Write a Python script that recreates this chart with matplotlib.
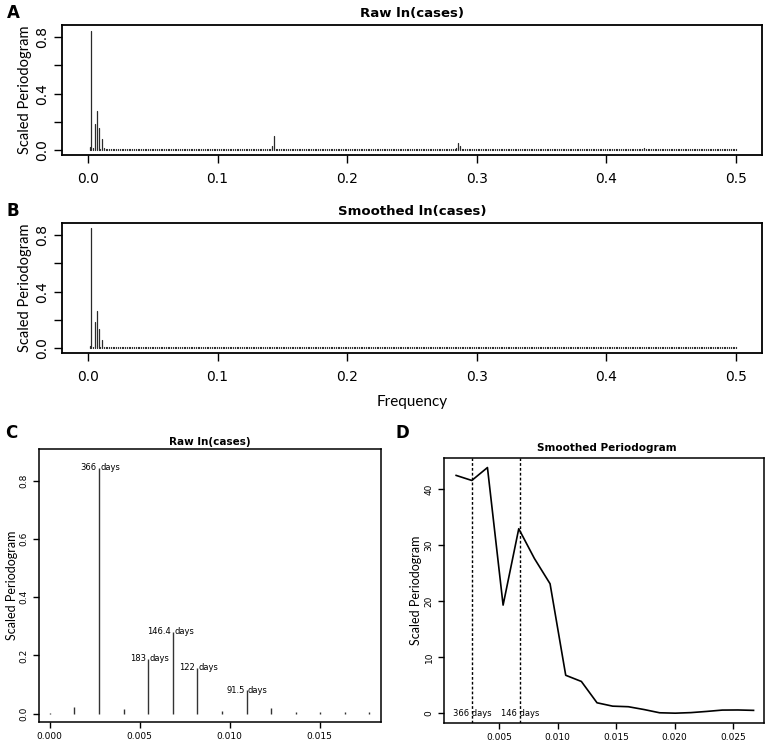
import numpy as np
import matplotlib
matplotlib.use("Agg")
import matplotlib.pyplot as plt

# frequency grid of the raw periodogram (cycles per day, series length 732)
n_obs = 732
freq = np.arange(0, n_obs // 2 + 1) / n_obs

# raw ln(cases): low-frequency ordinates k = 0..13
raw_low = [0.002, 0.023, 0.846, 0.016, 0.189, 0.281, 0.157, 0.009, 0.080, 0.018,
           0.008, 0.008, 0.008, 0.008]
# weekly harmonics in the raw series (index into freq, value)
raw_peak_idx = [14, 103, 104, 105, 106, 208, 209, 210, 313, 314, 315]
raw_peak_val = [0.010, 0.010, 0.035, 0.100, 0.012, 0.020, 0.050, 0.028, 0.010, 0.020, 0.010]

# smoothed ln(cases): low-frequency ordinates k = 0..10
smooth_low = [0.002, 0.019, 0.847, 0.012, 0.184, 0.264, 0.137, 0.008, 0.059, 0.008, 0.008]

floor_level = 0.008  # background level of the remaining ordinates

# panel C labels
peak_periods = ["366", "183", "146.4", "122", "91.5"]
peak_idx = [2, 4, 5, 6, 8]

# panel D: smoothed periodogram
smooth_freq = np.arange(1, 21) / 748
smooth_spec = [42.4, 41.5, 43.8, 19.3, 32.9, 27.6, 23.1, 6.8, 5.7, 1.9,
               1.3, 1.2, 0.7, 0.12, 0.05, 0.15, 0.36, 0.6, 0.62, 0.55]
mark_periods = [366, 146.4]
mark_labels = ["366 days", "146 days"]

raw = np.full(len(freq), floor_level)
raw[:len(raw_low)] = raw_low
raw[raw_peak_idx] = raw_peak_val
smooth = np.full(len(freq), floor_level)
smooth[:len(smooth_low)] = smooth_low

# panel C shows the raw ordinates as read, without the background fill
raw_c = np.array(raw_low)
raw_c[10:] = [0.006, 0.004, 0.004, 0.004]

W, H = 767, 743
fig = plt.figure(figsize=(W / 100, H / 100), dpi=100)


def px_axes(left, top, right, bottom):
    return fig.add_axes([left / W, 1 - bottom / H, (right - left) / W, (bottom - top) / H])


label_font = ["Lato", "DejaVu Sans"]


def style(ax, lw=1.3, tlen=6, tsize=10):
    for s in ax.spines.values():
        s.set_linewidth(lw)
    ax.tick_params(direction="out", length=tlen, width=1.0, labelsize=tsize)
    for lab in ax.get_yticklabels():
        lab.set_rotation(90)
        lab.set_va("center")


# ---- A and B ----
for letter, title, vals, top, bottom in [("A", "Raw ln(cases)", raw, 25, 155),
                                         ("B", "Smoothed ln(cases)", smooth, 223, 353)]:
    ax = px_axes(62, top, 762, bottom)
    lc = ax.vlines(freq, 0, vals, color="#2a2a2a", lw=0.9)
    lc.set_capstyle("round")
    ax.set_xlim(-0.02, 0.52)
    ax.set_ylim(-0.032, 0.885)
    ax.set_xticks([0.0, 0.1, 0.2, 0.3, 0.4, 0.5])
    ax.set_xticklabels(["0.0", "0.1", "0.2", "0.3", "0.4", "0.5"])
    ax.set_yticks([0.0, 0.2, 0.4, 0.6, 0.8])
    ax.set_yticklabels(["0.0", "", "0.4", "", "0.8"])
    style(ax, tlen=6, tsize=10)
    ax.tick_params(axis="x", pad=6)
    ax.set_ylabel("Scaled Periodogram", fontsize=10.5, family=label_font, labelpad=2)
    fig.text(412 / W, 1 - (top - 12) / H, title, ha="center", va="center",
             fontsize=9.5, fontweight="bold")
    fig.text(7 / W, 1 - (top - 12) / H, letter, ha="left", va="center",
             fontsize=12, fontweight="bold")
    if letter == "B":
        ax.set_xlabel("Frequency", fontsize=11, family=label_font, labelpad=8)

# ---- C ----
axc = px_axes(39, 449, 381, 722)
kc = np.arange(len(raw_c))
axc.vlines(freq[kc], 0, raw_c, color="#333333", lw=1.0)
for per, k in zip(peak_periods, peak_idx):
    axc.annotate(per, (freq[k], raw_c[k]), xytext=(-1.5, 0), textcoords="offset points",
                 ha="right", va="center", fontsize=6)
    axc.annotate("days", (freq[k], raw_c[k]), xytext=(1, 0), textcoords="offset points",
                 ha="left", va="center", fontsize=6)
axc.set_xlim(-0.0006, 0.0184)
axc.set_ylim(-0.029, 0.91)
axc.set_xticks([0.0, 0.005, 0.010, 0.015])
axc.set_xticklabels(["0.000", "0.005", "0.010", "0.015"])
axc.set_yticks([0.0, 0.2, 0.4, 0.6, 0.8])
axc.set_yticklabels(["0.0", "0.2", "0.4", "0.6", "0.8"])
style(axc, lw=1.1, tlen=4, tsize=6.5)
axc.set_ylabel("Scaled Periodogram", fontsize=9, family=label_font, labelpad=1)
fig.text(210 / W, 1 - 442 / H, "Raw ln(cases)", ha="center", va="center",
         fontsize=7.5, fontweight="bold")
fig.text(5 / W, 1 - 433 / H, "C", ha="left", va="center", fontsize=12, fontweight="bold")

# ---- D ----
axd = px_axes(444, 458, 764, 723)
axd.plot(smooth_freq, smooth_spec, color="black", lw=1.2)
for per, lab in zip(mark_periods, mark_labels):
    axd.axvline(1 / per, color="black", lw=1.0, ls=(0, (2, 1.5)))
    axd.text(1 / per, 0, lab, ha="center", va="center", fontsize=6)
axd.set_xlim(0.0003, 0.02763)
axd.set_ylim(-1.7, 45.5)
axd.set_xticks([0.005, 0.010, 0.015, 0.020, 0.025])
axd.set_xticklabels(["0.005", "0.010", "0.015", "0.020", "0.025"])
axd.set_yticks([0, 10, 20, 30, 40])
axd.set_yticklabels(["0", "10", "20", "30", "40"])
style(axd, lw=1.1, tlen=4, tsize=6.5)
axd.set_ylabel("Scaled Periodogram", fontsize=9, family=label_font, labelpad=2)
fig.text(607 / W, 1 - 448 / H, "Smoothed Periodogram", ha="center", va="center",
         fontsize=7.5, fontweight="bold")
fig.text(395 / W, 1 - 433 / H, "D", ha="left", va="center", fontsize=12, fontweight="bold")

fig.savefig("out.png", dpi=100)
